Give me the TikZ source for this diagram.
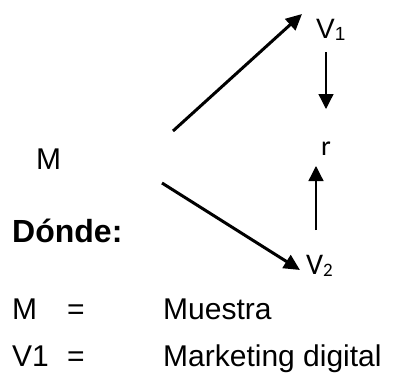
\documentclass[tikz,border=0pt]{standalone}
\usepackage{fontspec}
\setmainfont{Liberation Sans}
\newfontfamily\calib{Carlito}
\usetikzlibrary{arrows.meta}
\tikzset{
  txt/.style={inner sep=0pt, anchor=base west, font=\fontsize{30}{34}\selectfont},
  ctxt/.style={inner sep=0pt, anchor=base west, font=\calib\fontsize{30}{34}\selectfont},
  bigarrow/.style={line width=3pt, -{Triangle[length=16pt,width=15pt]}},
  smallarrow/.style={line width=1.3pt, -{Triangle[length=15pt,width=15pt]}}
}
\newcommand{\mysub}[1]{\raisebox{-2pt}{\fontsize{19}{21}\selectfont #1}}
\begin{document}
\begin{tikzpicture}[x=1pt,y=-1pt]
\useasboundingbox (0,0) rectangle (397,378);
\node[txt] (M) at (36,169) {M};
\node[txt, font=\fontsize{32}{36}\selectfont\bfseries] (donde) at (12,242) {Dónde:};
\node[txt, font=\fontsize{28}{32}\selectfont] (V1) at (316,38) {V\mysub{1}};
\node[ctxt, font=\calib\fontsize{28}{32}\selectfont] (r) at (321,155) {r};
\node[ctxt] (V2) at (306,274) {V\mysub{2}};
\coordinate (a1s) at (173,131);
\coordinate (a1e) at (302,14);
\coordinate (a2s) at (162,183);
\coordinate (a2e) at (300,270);
\coordinate (a3s) at (326,52);
\coordinate (a3e) at (326,109);
\coordinate (a4s) at (316,230);
\coordinate (a4e) at (316,166);
\draw[bigarrow] (a1s) -- (a1e);
\draw[bigarrow] (a2s) -- (a2e);
\draw[smallarrow] (a3s) -- (a3e);
\draw[smallarrow] (a4s) -- (a4e);
\node[txt] (lM) at (12,319) {M};
\node[txt] (eq1) at (67,319) {=};
\node[txt] (dM) at (163,319) {Muestra};
\node[txt] (lV) at (12,366) {V1};
\node[txt] (eq2) at (67,366) {=};
\node[txt] (dV) at (163,366) {Marketing digital};
\end{tikzpicture}
\end{document}
